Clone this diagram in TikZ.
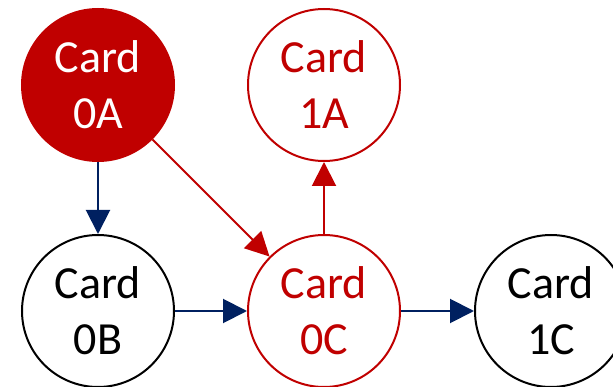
\documentclass[tikz,border=0pt]{standalone}
\usepackage{fontspec}
\setmainfont{Carlito}
\usetikzlibrary{arrows.meta}
\definecolor{cred}{HTML}{C00000}
\definecolor{cnavy}{HTML}{002060}
\begin{document}
\begin{tikzpicture}[x=1pt,y=-1pt,
  card/.style={circle,minimum size=152pt,inner sep=0pt,line width=2pt,draw,
    align=center,font=\fontsize{46}{56}\selectfont},
  redcard/.style={card,draw=cred,text=cred},
  filledcard/.style={card,draw=cred,fill=cred,text=white},
  blackcard/.style={card,draw=black,text=black},
  link/.style={line width=2pt,-{Triangle[length=24pt,width=24pt]}},
  navylink/.style={link,draw=cnavy,fill=cnavy},
  redlink/.style={link,draw=cred,fill=cred}]
\useasboundingbox (0,0) rectangle (613,387);
\node[filledcard] (a0) at (98,85) {Card\\0A};
\node[redcard] (a1) at (324,85) {Card\\1A};
\node[blackcard] (b0) at (98,311) {Card\\0B};
\node[redcard] (c0) at (324,311) {Card\\0C};
\node[blackcard] (c1) at (551,311) {Card\\1C};
\draw[navylink] (a0) -- (b0);
\draw[redlink] (a0) -- (c0);
\draw[redlink] (c0) -- (a1);
\draw[navylink] (b0) -- (c0);
\draw[navylink] (c0) -- (c1);
\end{tikzpicture}
\end{document}
